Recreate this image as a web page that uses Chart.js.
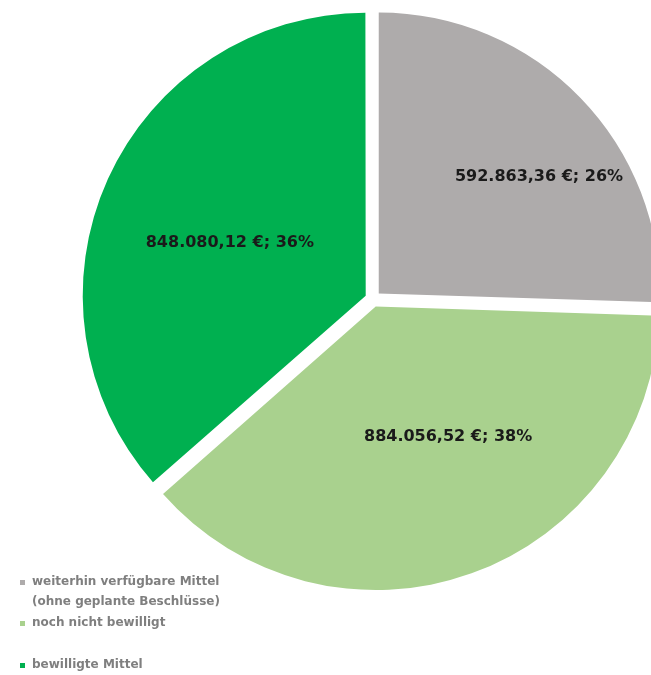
<!DOCTYPE html>
<html>
<head>
<meta charset="utf-8">
<script src="https://cdn.jsdelivr.net/npm/chart.js@4.4.1/dist/chart.umd.min.js"></script>
<style>
  html, body { margin: 0; padding: 0; background: #fff; overflow: hidden; }
  #wrap { position: absolute; left: 0; top: 0; width: 746px; height: 675px; }
</style>
</head>
<body>
<div id="wrap"><canvas id="myChart"></canvas></div>
<script>
let labels = ['weiterhin verfügbare Mittel\n(ohne geplante Beschlüsse)', 'noch nicht bewilligt', 'bewilligte Mittel'];
let values = [592863.36, 884056.52, 848080.12];
let colors = ['#AEABAB', '#A9D18E', '#00B050'];

function euro(v) {
    return v.toLocaleString('de-DE', { minimumFractionDigits: 2, maximumFractionDigits: 2 }) + ' €';
}

// percentages that add up to 100, like Excel shows them
function percents(vals) {
    let total = vals.reduce((a, b) => a + b, 0);
    let raw = vals.map(v => v / total * 100);
    let out = raw.map(Math.floor);
    let left = 100 - out.reduce((a, b) => a + b, 0);
    raw.map((r, i) => [r - Math.floor(r), i])
        .sort((a, b) => b[0] - a[0])
        .slice(0, left)
        .forEach(p => out[p[1]]++);
    return out;
}

// slice labels + legend drawn by hand (Excel-like look)
let excelBits = {
    id: 'excelBits',
    afterDatasetsDraw(chart, args, opts) {
        let ctx = chart.ctx;
        let meta = chart.getDatasetMeta(0);
        let pct = percents(values);
        ctx.save();
        ctx.font = 'bold 16px "DejaVu Sans"';
        ctx.fillStyle = '#1a1a1a';
        ctx.textAlign = 'center';
        ctx.textBaseline = 'middle';
        meta.data.forEach((arc, i) => {
            let p = arc.getProps(['x', 'y', 'startAngle', 'endAngle', 'outerRadius'], true);
            let a = (p.startAngle + p.endAngle) / 2 + opts.shift[i] * Math.PI / 180;
            let r = p.outerRadius * opts.dist[i];
            let txt = euro(values[i]) + '; ' + pct[i] + '%';
            ctx.fillText(txt, p.x + Math.cos(a) * r, p.y + Math.sin(a) * r);
        });

        // legend
        ctx.font = 'bold 12px "DejaVu Sans"';
        ctx.textAlign = 'left';
        let y = opts.legendTop;
        labels.forEach((lab, i) => {
            let lines = lab.split('\n');
            ctx.fillStyle = colors[i];
            ctx.fillRect(opts.legendLeft, y - 2, 5, 5);
            ctx.fillStyle = '#7f7f7f';
            lines.forEach((ln, j) => {
                ctx.fillText(ln, opts.legendLeft + 12, y + j * 20);
            });
            y += lines.length * 20 + opts.legendGap[i];
        });
        ctx.restore();
    }
};

let myChart = document.getElementById('myChart').getContext('2d');

let chart = new Chart(myChart, {
    type: 'pie',
    data: {
        labels: labels,
        datasets: [{
            data: values,
            backgroundColor: colors,
            borderWidth: 0,
            offset: 32,
            hoverOffset: 0
        }]
    },
    options: {
        responsive: true,
        maintainAspectRatio: false,
        animation: false,
        radius: 281,
        layout: { padding: { bottom: 77 } },
        events: [],
        plugins: {
            legend: { display: false },
            tooltip: { enabled: false },
            excelBits: {
                shift: [7.8, -8.8, -3],
                dist: [0.733, 0.559, 0.547],
                legendLeft: 20,
                legendTop: 582,
                legendGap: [1, 22, 0]
            }
        }
    },
    plugins: [excelBits]
});
</script>
</body>
</html>
